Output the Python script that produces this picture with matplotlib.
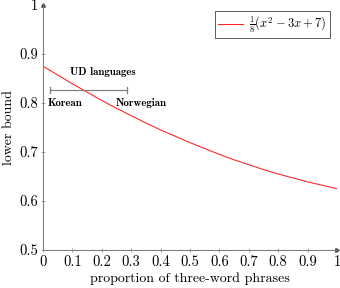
import matplotlib.pyplot as plt
import matplotlib as mpl

mpl.rcParams['font.family'] = 'cmr10'
mpl.rcParams['mathtext.fontset'] = 'cm'
mpl.rcParams['axes.formatter.use_mathtext'] = True

# кривая
x_vals = [0.0, 0.05, 0.1, 0.15, 0.2, 0.25, 0.3, 0.35, 0.4, 0.45, 0.5,
          0.55, 0.6, 0.65, 0.7, 0.75, 0.8, 0.85, 0.9, 0.95, 1.0]
y_vals = [0.875, 0.857, 0.839, 0.822, 0.805, 0.789, 0.774, 0.759, 0.745, 0.732, 0.719,
          0.707, 0.695, 0.684, 0.674, 0.664, 0.655, 0.647, 0.639, 0.632, 0.625]

# интервал UD языков
ud_range = [0.025, 0.285]
ud_y = 0.826
ud_names = ["Korean", "Norwegian"]

xticks = [0, 0.1, 0.2, 0.3, 0.4, 0.5, 0.6, 0.7, 0.8, 0.9, 1]
yticks = [0.5, 0.6, 0.7, 0.8, 0.9, 1]

gray = "#808080"

fig = plt.figure(figsize=(3.4, 2.88), dpi=100)
ax = fig.add_axes([0.1265, 0.132, 0.8645, 0.851])

ax.plot(x_vals, y_vals, color="#ff2020", lw=0.75, label=r"$\frac{1}{8}(x^2-3x+7)$")

# отрезок с засечками
ax.plot(ud_range, [ud_y, ud_y], color=gray, lw=0.9)
ax.plot([ud_range[0]] * 2, [ud_y - 0.006, ud_y + 0.006], color=gray, lw=0.9)
ax.plot([ud_range[1]] * 2, [ud_y - 0.006, ud_y + 0.006], color=gray, lw=0.9)
ax.text(0.204, 0.863, "UD languages", family="cmb10", fontsize=7.8, ha="center", va="center")
ax.text(0.075, 0.800, ud_names[0], family="cmb10", fontsize=7.8, ha="center", va="center")
ax.text(0.334, 0.800, ud_names[1], family="cmb10", fontsize=7.8, ha="center", va="center")

ax.set_xlim(0, 1)
ax.set_ylim(0.5, 1)
ax.set_xticks(xticks)
ax.set_yticks(yticks)
ax.set_xticklabels(["0" if t == 0 else ("1" if t == 1 else f"{t:.1f}") for t in xticks])
ax.set_yticklabels(["1" if t == 1 else f"{t:.1f}" for t in yticks])
ax.tick_params(direction="inout", length=3, width=0.5, color=gray, labelsize=10.5, pad=2)

for s in ["top", "right"]:
    ax.spines[s].set_visible(False)
for s in ["left", "bottom"]:
    ax.spines[s].set_color(gray)
    ax.spines[s].set_linewidth(0.8)

# стрелки на осях
ax.plot(1.0, 0, ">", transform=ax.transAxes, clip_on=False, color="#404040", ms=2.5)
ax.plot(0, 1.0, "^", transform=ax.transAxes, clip_on=False, color="#404040", ms=2.5)

ax.set_xlabel("proportion of three-word phrases", fontsize=10, labelpad=3)
ax.set_ylabel("lower bound", fontsize=10, labelpad=3)

leg = ax.legend(loc="upper right", bbox_to_anchor=(0.997, 1.0), fontsize=9,
                fancybox=False, edgecolor="#404040", framealpha=1,
                handlelength=2.0, borderpad=0.25, handletextpad=0.5)
leg.get_frame().set_linewidth(0.6)

fig.savefig("out.png", dpi=100)
